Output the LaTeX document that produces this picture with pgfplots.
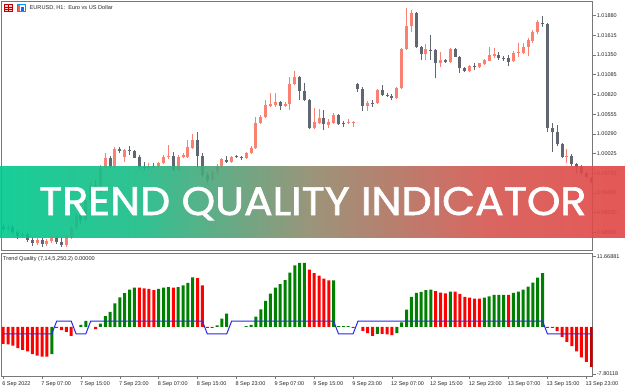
\documentclass[border=0pt]{standalone}
\usepackage{graphicx}
\usepackage{pgfplots}
\pgfplotsset{compat=1.18}
\usepackage{pgfplotstable}
\usepackage{fontspec}
\setmainfont{Liberation Sans}
\newfontfamily\bannerfont{Poppins}[FakeBold=1.6]

\definecolor{bullc}{RGB}{250,128,114}
\definecolor{bearc}{RGB}{96,103,112}
\definecolor{tqgreen}{RGB}{0,128,0}
\definecolor{tqred}{RGB}{255,0,0}
\definecolor{tqdred}{RGB}{196,0,0}
\definecolor{tqblue}{RGB}{40,40,235}
\definecolor{framec}{RGB}{120,120,120}
\definecolor{labc}{RGB}{40,40,40}
\definecolor{bnA}{RGB}{0,201,141}
\definecolor{bnB}{RGB}{25,188,134}
\definecolor{bnC}{RGB}{145,137,108}
\definecolor{bnD}{RGB}{214,86,80}
\definecolor{bnE}{RGB}{226,70,70}
\pgfdeclarehorizontalshading{banner}{100bp}{color(0bp)=(bnA); color(25bp)=(bnA); color(36bp)=(bnB); color(50bp)=(bnC); color(64bp)=(bnD); color(75bp)=(bnE); color(100bp)=(bnE)}

\pgfplotsset{
  wick/.style={draw=none, mark=none, forget plot, error bars/.cd, y dir=plus, y explicit, error mark=none, error bar style={draw=#1, line width=1pt}},
  body/.style={draw=none, mark=none, forget plot, error bars/.cd, y dir=plus, y explicit, error mark=none, error bar style={draw=#1, line width=3pt}},
}

% EURUSD H1 candles: index open high low close (bullish)
\pgfplotstableread{
i o h l c
1 0.99009 0.99063 0.98983 0.99036
4 0.98915 0.98969 0.98888 0.98942
7 0.98821 0.98888 0.98794 0.98861
9 0.98807 0.98875 0.98781 0.98848
10 0.98848 0.98915 0.98821 0.98888
13 0.98794 0.98929 0.98767 0.98902
14 0.98902 0.99049 0.98875 0.99022
15 0.99022 0.99238 0.98996 0.99197
17 0.99130 0.99453 0.99103 0.99399
18 0.99399 0.99641 0.99359 0.99601
20 0.99507 0.99870 0.99480 0.99830
21 0.99843 1.00032 0.99816 0.99964
23 0.99857 1.00112 0.99830 1.00085
25 0.99978 1.00085 0.99910 1.00072
30 0.99830 0.99897 0.99816 0.99857
32 0.99857 0.99910 0.99843 0.99893
33 0.99893 1.00005 0.99884 0.99982
34 0.99974 1.00139 0.99957 0.99991
36 0.99803 1.00005 0.99789 0.99982
37 0.99974 1.00032 0.99964 1.00005
38 0.99974 1.00207 0.99964 1.00108
39 1.00095 1.00291 1.00085 1.00207
43 0.99668 0.99803 0.99641 0.99776
44 0.99776 0.99884 0.99736 0.99857
45 0.99857 0.99964 0.99830 0.99951
47 0.99915 0.99991 0.99904 0.99982
50 0.99960 1.00045 0.99951 1.00036
51 1.00032 1.00126 1.00018 1.00103
52 1.00103 1.00516 1.00085 1.00435
53 1.00435 1.00543 1.00422 1.00516
54 1.00516 1.00745 1.00503 1.00678
55 1.00664 1.00839 1.00651 1.00691
56 1.00682 1.00839 1.00651 1.00714
58 1.00664 1.00718 1.00651 1.00691
59 1.00691 1.01055 1.00611 1.00960
60 1.00960 1.01135 1.00947 1.01055
64 1.00368 1.00637 1.00355 1.00449
65 1.00435 1.00624 1.00422 1.00503
67 1.00408 1.00489 1.00368 1.00449
68 1.00435 1.00570 1.00422 1.00543
71 1.00439 1.00493 1.00422 1.00452
72 1.00435 1.00462 1.00386 1.00449
75 1.00664 1.00732 1.00601 1.00705
77 1.00705 1.00893 1.00691 1.00880
81 1.00772 1.00920 1.00758 1.00907
82 1.00907 1.01445 1.00893 1.01431
83 1.01431 1.01983 1.01418 1.01741
84 1.01741 1.01956 1.01664 1.01916
87 1.01364 1.01495 1.01283 1.01431
90 1.01243 1.01395 1.01193 1.01283
92 1.01252 1.01445 1.01243 1.01431
96 1.01139 1.01216 1.01129 1.01207
98 1.01185 1.01243 1.01176 1.01239
99 1.01229 1.01297 1.01216 1.01283
100 1.01274 1.01462 1.01270 1.01351
101 1.01337 1.01445 1.01310 1.01364
105 1.01270 1.01405 1.01256 1.01382
106 1.01374 1.01508 1.01328 1.01395
107 1.01382 1.01512 1.01364 1.01462
108 1.01462 1.01580 1.01337 1.01553
109 1.01539 1.01687 1.01512 1.01656
110 1.01656 1.01822 1.01633 1.01799
116 0.99974 1.00085 0.99897 0.99991
}\bulltab

% bearish candles
\pgfplotstableread{
i o h l c
0 0.99049 0.99076 0.98983 0.99009
2 0.99036 0.99063 0.98942 0.98969
3 0.98969 0.98996 0.98875 0.98915
5 0.98942 0.98956 0.98834 0.98861
6 0.98861 0.98902 0.98781 0.98821
8 0.98861 0.98888 0.98767 0.98807
11 0.98888 0.98915 0.98807 0.98834
12 0.98834 0.98902 0.98767 0.98794
16 0.99197 0.99265 0.99076 0.99130
19 0.99601 0.99669 0.99467 0.99507
22 0.99964 0.99991 0.99830 0.99857
24 1.00085 1.00112 1.00032 1.00058
26 1.00078 1.00126 1.00005 1.00058
27 1.00058 1.00072 0.99964 0.99968
28 0.99978 1.00005 0.99816 0.99843
29 0.99843 0.99910 0.99803 0.99830
31 0.99863 0.99897 0.99830 0.99850
35 0.99991 1.00045 0.99789 0.99803
40 1.00207 1.00314 0.99830 0.99995
41 0.99995 1.00032 0.99709 0.99736
42 0.99736 0.99776 0.99628 0.99668
46 0.99937 0.99991 0.99897 0.99915
48 0.99987 1.00005 0.99971 0.99973
49 0.99985 0.99998 0.99944 0.99960
57 1.00714 1.00732 1.00611 1.00664
61 1.01055 1.01068 1.00745 1.00866
62 1.00866 1.00974 1.00732 1.00745
63 1.00745 1.00758 1.00355 1.00368
66 1.00503 1.00611 1.00341 1.00422
69 1.00543 1.00557 1.00408 1.00429
70 1.00431 1.00466 1.00386 1.00422
73 1.00960 1.00974 1.00853 1.00893
74 1.00900 1.00920 1.00597 1.00664
76 1.00701 1.00745 1.00655 1.00691
78 1.00880 1.00943 1.00799 1.00812
79 1.00812 1.00835 1.00781 1.00799
80 1.00806 1.00826 1.00745 1.00772
85 1.01916 1.01929 1.01445 1.01458
86 1.01458 1.01472 1.01283 1.01364
88 1.01425 1.01620 1.01283 1.01411
89 1.01418 1.01431 1.01041 1.01243
91 1.01283 1.01297 1.01243 1.01252
93 1.01431 1.01445 1.01324 1.01328
94 1.01328 1.01337 1.01112 1.01172
95 1.01180 1.01189 1.01122 1.01135
97 1.01203 1.01247 1.01149 1.01185
102 1.01351 1.01391 1.01283 1.01306
103 1.01306 1.01337 1.01270 1.01293
104 1.01306 1.01351 1.01203 1.01261
111 1.01781 1.01876 1.01732 1.01768
112 1.01768 1.01781 1.00314 1.00372
113 1.00372 1.00431 1.00049 1.00318
114 1.00318 1.00408 1.00126 1.00153
115 1.00153 1.00166 0.99964 0.99974
117 0.99991 1.00018 0.99857 0.99884
118 0.99884 0.99897 0.99762 0.99843
119 0.99843 0.99870 0.99736 0.99762
120 0.99762 0.99776 0.99695 0.99709
121 0.99695 0.99709 0.99628 0.99641
}\beartab

\begin{document}
\begin{tikzpicture}
\useasboundingbox (0pt,0pt) rectangle (625pt,-391pt);
\fill[white] (0pt,0pt) rectangle (625pt,-391pt);

% ---------- main price panel ----------
\begin{axis}[
  at={(1.7pt,-1pt)}, anchor=north west,
  width=591pt, height=249pt, scale only axis,
  xmin=-0.31, xmax=121.31,
  ymin=0.98727, ymax=1.02078,
  axis line style={framec, line width=1pt},
  xtick=\empty,
  ytick={0.98965,0.99230,0.99495,0.99760,1.00025,1.00290,1.00555,1.00820,1.01085,1.01350,1.01615,1.01880},
  yticklabels={0.98965,0.99230,0.99495,0.99760,1.00025,1.00290,1.00555,1.00820,1.01085,1.01350,1.01615,1.01880},
  ytick pos=right, yticklabel pos=right,
  tick align=outside, major tick length=3pt,
  tick style={framec, line width=0.6pt},
  yticklabel style={font=\fontsize{5.5}{6}\selectfont, text=labc, anchor=west, inner sep=0pt, xshift=1pt},
]
\addplot[wick=bullc] table[x=i, y=l, y error expr=\thisrow{h}-\thisrow{l}] {\bulltab};
\addplot[body=bullc] table[x=i, y=o, y error expr=\thisrow{c}-\thisrow{o}] {\bulltab};
\addplot[wick=bearc] table[x=i, y=l, y error expr=\thisrow{h}-\thisrow{l}] {\beartab};
\addplot[body=bearc] table[x=i, y=c, y error expr=\thisrow{o}-\thisrow{c}] {\beartab};
\end{axis}

% ---------- indicator panel ----------
\begin{axis}[
  at={(1.7pt,-253pt)}, anchor=north west,
  width=591pt, height=123pt, scale only axis,
  xmin=-0.31, xmax=121.31,
  ymin=-8.13, ymax=12.25,
  axis line style={framec, line width=1pt},
  ytick={-7.80118,11.66881},
  yticklabels={-7.80118,11.66881},
  ytick pos=right, yticklabel pos=right,
  xtick={0,8,...,120},
  xticklabels={6 Sep 2022,7 Sep 07:00,7 Sep 15:00,7 Sep 23:00,8 Sep 07:00,8 Sep 15:00,8 Sep 23:00,9 Sep 07:00,9 Sep 15:00,9 Sep 23:00,12 Sep 07:00,12 Sep 15:00,12 Sep 23:00,13 Sep 07:00,13 Sep 15:00,13 Sep 23:00},
  xtick pos=bottom,
  tick align=outside, major tick length=3pt,
  tick style={framec, line width=0.6pt},
  yticklabel style={font=\fontsize{5.5}{6}\selectfont, text=labc, anchor=west, inner sep=0pt, xshift=1pt},
  xticklabel style={font=\fontsize{5.5}{6}\selectfont, text=labc, anchor=north west, inner sep=0pt, xshift=-1pt, yshift=-2.5pt},
]
\addplot[ybar, bar width=3pt, bar shift=0pt, fill=tqgreen, draw=none, forget plot] coordinates {
(10,-4.5)(16,0.36)(17,1.0)(20,0.53)(21,1.8)(22,2.5)(23,3.9)(24,4.9)(25,5.6)(26,6.2)(27,6.5)
(32,6.3)(33,6.5)(34,6.6)(36,6.6)(37,6.9)(38,7.3)(39,8.2)(44,0.25)(45,1.36)(46,2.2)
(50,0.15)(51,0.36)(52,1.7)(53,2.9)(54,4.3)(55,5.5)(56,6.5)(57,7.1)(58,7.75)(59,9.0)(60,10.2)(61,10.6)(62,10.6)
(68,7.7)(69,0.15)(70,0.15)(71,0.15)(77,-1.14)(81,-1.03)(82,0.75)(83,2.86)(84,4.97)(85,5.64)(86,5.8)(87,6.08)(88,6.19)
(92,5.86)(99,4.86)(100,5.08)(101,5.3)(102,5.3)(103,5.3)(105,5.64)(106,5.86)(107,6.19)(108,6.69)(109,7.36)(110,8.19)(111,8.92)};
\addplot[ybar, bar width=3pt, bar shift=0pt, fill=tqred, draw=none, forget plot] coordinates {
(0,-2.8)(1,-2.9)(2,-3.1)(3,-3.5)(4,-3.8)(5,-4.05)(6,-4.5)(7,-4.75)(8,-4.9)(9,-4.9)
(11,-0.15)(12,-0.53)(13,-0.8)(14,-1.5)(19,-0.36)(28,6.5)(29,6.4)(30,6.3)(31,6.1)(35,6.5)(40,8.1)(41,6.9)
(42,-0.15)(43,-0.15)(63,9.5)(64,8.9)(65,8.5)(66,8.0)(67,7.7)(72,-0.15)(74,-0.64)(75,-1.03)(76,-1.47)
(78,-1.14)(79,-1.25)(80,-1.36)(89,5.92)(90,5.69)(91,5.58)(93,5.86)(94,5.47)(95,4.97)(96,4.86)(97,4.69)(98,4.69)
(104,5.3)(112,-0.15)(113,-0.15)(114,-0.69)(115,-1.64)(116,-2.47)(117,-3.19)(118,-4.03)(119,-5.03)(120,-5.8)};
\addplot[ybar, bar width=3pt, bar shift=0pt, fill=tqdred, draw=none, forget plot] coordinates {(121,-6.64)};
\addplot[tqblue, line width=1pt, mark=none] coordinates {
(0,-1.15)(10,-1.15)(11,0.95)(14,0.95)(15,-1.15)(17,-1.15)(18,0.95)(41,0.95)(42,-1.15)(46,-1.15)(47,0.95)
(68,0.95)(69,-1.15)(72,-1.15)(73,0.95)(111,0.95)(112,-1.15)(121,-1.15)};
\end{axis}

% ---------- titles and icons ----------
\draw[red!75!black, fill=red!20, line width=0.5pt] (4.5pt,-4.5pt) rectangle (12.5pt,-11.5pt);
\draw[red!75!black, line width=0.4pt] (4.5pt,-7pt) -- (12.5pt,-7pt) (4.5pt,-9.3pt) -- (12.5pt,-9.3pt) (8.5pt,-4.5pt) -- (8.5pt,-11.5pt);
\fill[red!65] (17.5pt,-11.5pt) rectangle (20pt,-5pt);
\fill[blue!55!cyan] (21pt,-11.5pt) rectangle (23.5pt,-7pt);
\draw[blue!40!cyan, line width=0.4pt] (17pt,-4.5pt) rectangle (25.5pt,-11.5pt);
\node[anchor=west, inner sep=0pt, font=\fontsize{5.6}{6}\selectfont, text=labc] at (29.5pt,-8.3pt) {EURUSD, H1:\ \ Euro vs US Dollar};
\node[anchor=west, inner sep=0pt, font=\fontsize{5.6}{6}\selectfont, text=labc] at (3pt,-259pt) {Trend Quality (7,14,5,250,2) 0.00000};

% ---------- banner ----------
\shade[shading=banner, opacity=0.9] (0pt,-166.5pt) rectangle (625pt,-237.5pt);
\node[anchor=base west, inner sep=0pt, text=white] at (39pt,-215pt) {\resizebox{547pt}{28pt}{\bannerfont TREND QUALITY INDICATOR}};
\end{tikzpicture}
\end{document}
